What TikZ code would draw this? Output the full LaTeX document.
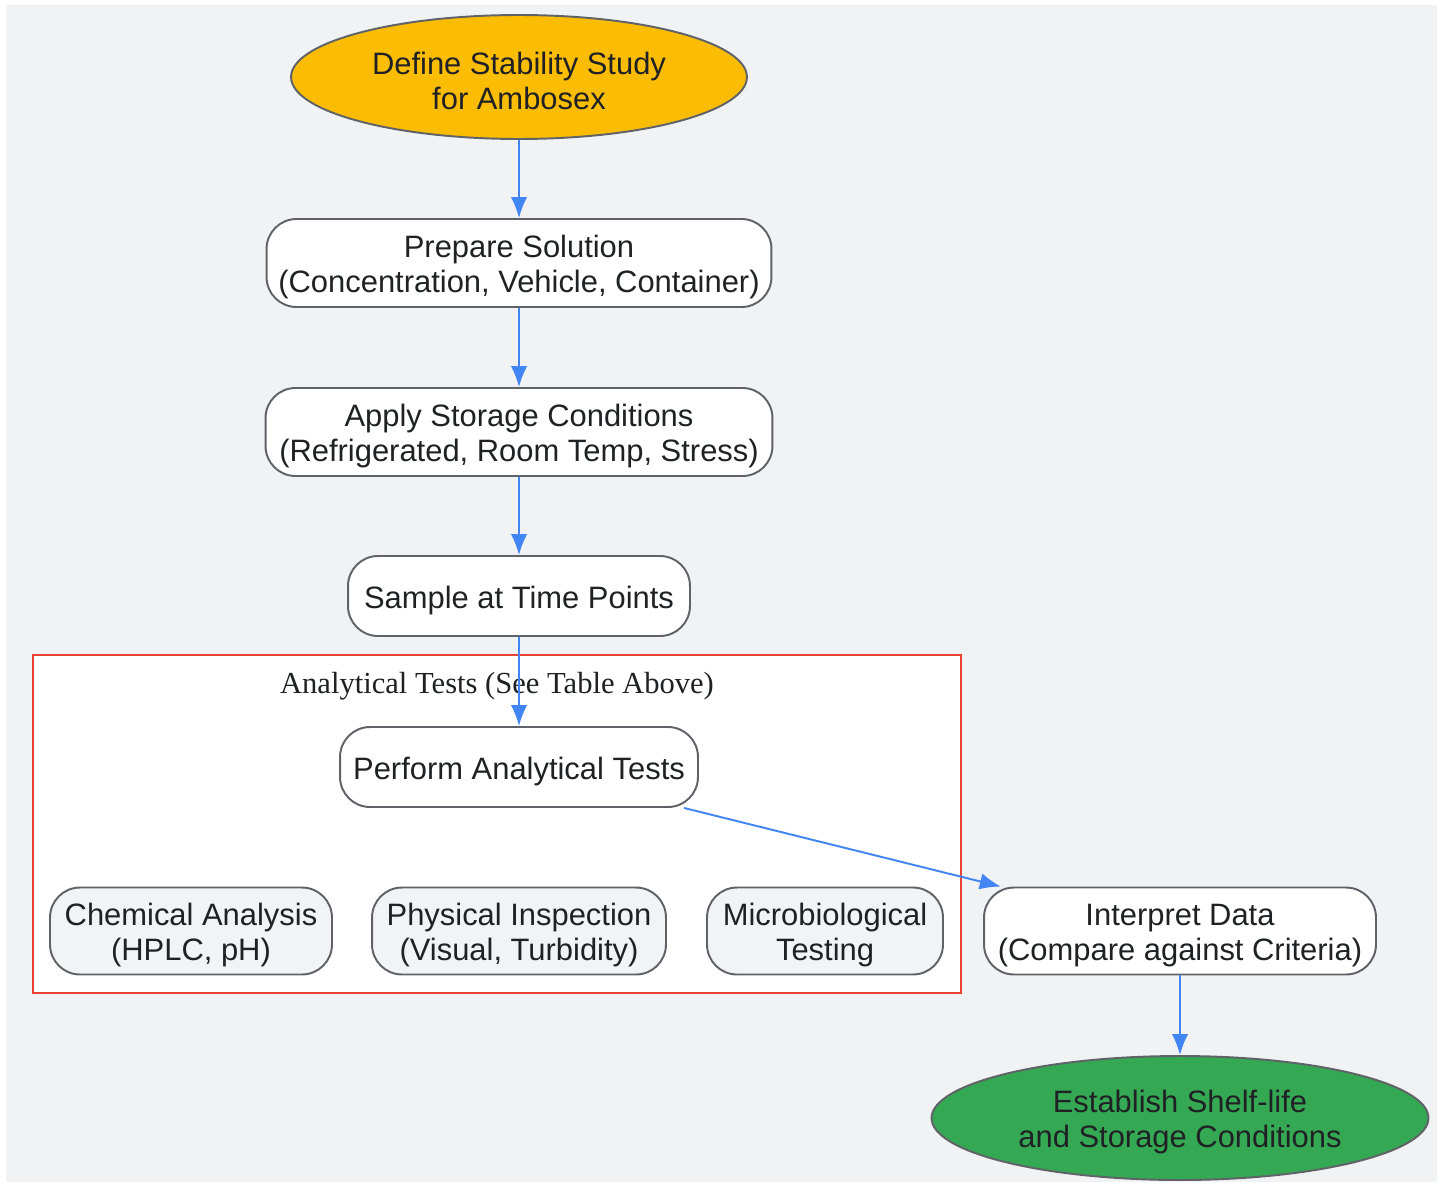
\documentclass[tikz,border=0pt]{standalone}
\usepackage{fontspec}
\setmainfont{Liberation Sans}
\newfontfamily\seriffont{Liberation Serif}
\usetikzlibrary{shapes.geometric,arrows.meta}
\definecolor{bgc}{HTML}{F1F2F4}
\definecolor{bordc}{HTML}{5F6368}
\definecolor{txtc}{HTML}{202124}
\definecolor{arrc}{HTML}{4285F4}
\definecolor{redc}{HTML}{EA4335}
\definecolor{yelc}{HTML}{FBBC04}
\definecolor{grnc}{HTML}{34A853}
\definecolor{subc}{HTML}{F1F3F4}
\newcommand\upr{\rule{0pt}{17.6pt}}
\tikzset{
  x=0.02cm, y=-0.02cm,
  base/.style={draw=bordc, line width=1.1pt, text=txtc, align=center, inner sep=0pt,
    font=\fontsize{17.6pt}{19.8pt}\selectfont},
  oval/.style={base, ellipse},
  stepbox/.style={base, rounded corners=0.6cm, fill=white},
  subbox/.style={base, rounded corners=0.6cm, fill=subc},
  flow/.style={draw=arrc, line width=1.1pt, -{Latex[length=0.42cm,width=0.33cm]}}
}
\begin{document}
\begin{tikzpicture}
\useasboundingbox (0,0) rectangle (1443,1183);
\fill[bgc] (6,5) rectangle (1437,1182);
\draw[redc, line width=1.1pt, fill=white] (33,655) rectangle (961,993);
\node[font=\seriffont\fontsize{17.4pt}{19.8pt}\selectfont, text=txtc] (clab) at (497,686) {Analytical Tests (See Table Above)};

\node[oval, fill=yelc, minimum width=9.12cm, minimum height=2.48cm] (define) at (519,77) {\upr Define Stability Study\\for Ambosex};
\node[stepbox, minimum width=10.1cm, minimum height=1.76cm] (prep) at (519,263) {\upr Prepare Solution\\(Concentration, Vehicle, Container)};
\node[stepbox, minimum width=10.14cm, minimum height=1.76cm] (store) at (519,432) {\upr Apply Storage Conditions\\(Refrigerated, Room Temp, Stress)};
\node[stepbox, minimum width=6.84cm, minimum height=1.6cm] (sample) at (519,596) {\upr Sample at Time Points};
\node[stepbox, minimum width=7.16cm, minimum height=1.6cm] (perform) at (519,767) {\upr Perform Analytical Tests};
\node[subbox, minimum width=5.64cm, minimum height=1.74cm] (chem) at (191,931) {\upr Chemical Analysis\\(HPLC, pH)};
\node[subbox, minimum width=5.88cm, minimum height=1.74cm] (phys) at (519,931) {\upr Physical Inspection\\(Visual, Turbidity)};
\node[subbox, minimum width=4.72cm, minimum height=1.74cm] (micro) at (825,931) {\upr Microbiological\\Testing};
\node[stepbox, minimum width=7.84cm, minimum height=1.74cm] (interp) at (1180,931) {\upr Interpret Data\\(Compare against Criteria)};
\node[oval, fill=grnc, minimum width=9.94cm, minimum height=2.48cm] (establish) at (1180,1118) {\upr Establish Shelf-life\\and Storage Conditions};

\draw[flow] (define) -- (prep);
\draw[flow] (prep) -- (store);
\draw[flow] (store) -- (sample);
\draw[flow] (sample) -- (perform);
\draw[flow] (perform) -- (interp);
\draw[flow] (interp) -- (establish);
\end{tikzpicture}
\end{document}
